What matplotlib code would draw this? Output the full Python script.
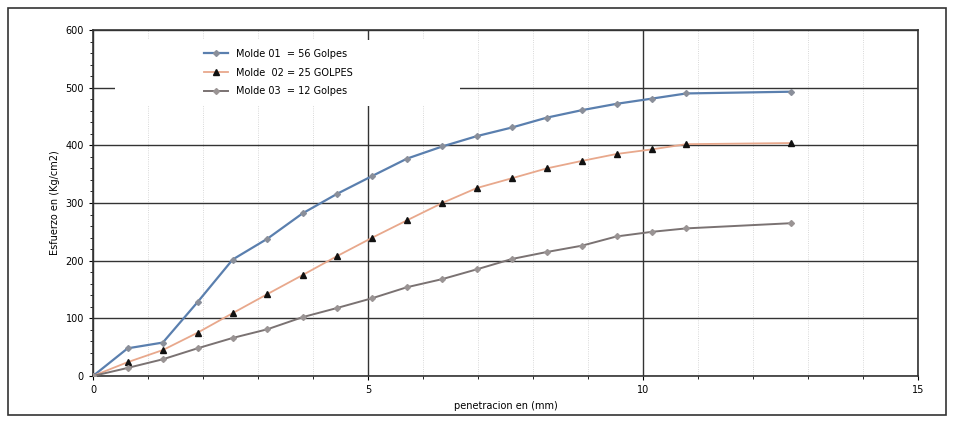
import matplotlib.pyplot as plt
from matplotlib.ticker import MultipleLocator
from matplotlib.patches import Rectangle

# penetracion (mm)
pen = [0, 0.63, 1.27, 1.90, 2.54, 3.17, 3.81, 4.44, 5.08, 5.71, 6.35,
       6.98, 7.62, 8.25, 8.89, 9.52, 10.16, 10.79, 12.70]
molde01 = [0, 48, 58, 128, 202, 238, 282, 316, 347, 377, 398,
           416, 431, 448, 461, 472, 481, 490, 493]
molde02 = [0, 24, 45, 75, 109, 142, 175, 208, 240, 270, 300,
           326, 343, 360, 373, 385, 393, 402, 404]
molde03 = [0, 14, 29, 48, 66, 81, 102, 118, 135, 154, 168,
           185, 203, 215, 226, 242, 250, 256, 265]

labels = ["Molde 01  = 56 Golpes", "Molde  02 = 25 GOLPES", "Molde 03  = 12 Golpes"]

plt.rcParams['font.family'] = 'DejaVu Sans'
fig = plt.figure(figsize=(9.54, 4.23), dpi=100)
ax = fig.add_axes([93 / 954, 1 - 376 / 423, 825 / 954, 346 / 423])

fig.patches.append(Rectangle((8 / 954, 8 / 423), 938 / 954, 407 / 423,
                             transform=fig.transFigure, fill=False,
                             edgecolor='#333333', linewidth=1.2))

ax.plot(pen, molde01, color='#5a7fae', linewidth=1.6, marker='D', markersize=3,
        markerfacecolor='#8a8f9a', markeredgecolor='#8a8f9a', label=labels[0], zorder=3)
ax.plot(pen, molde02, color='#e8a88c', linewidth=1.3, marker='^', markersize=5,
        markerfacecolor='#111111', markeredgecolor='#111111', label=labels[1], zorder=3)
ax.plot(pen, molde03, color='#7a7272', linewidth=1.4, marker='D', markersize=3,
        markerfacecolor='#9a9494', markeredgecolor='#9a9494', label=labels[2], zorder=3)

ax.set_xlim(0, 15)
ax.set_ylim(0, 600)
ax.xaxis.set_major_locator(MultipleLocator(5))
ax.xaxis.set_minor_locator(MultipleLocator(1))
ax.yaxis.set_major_locator(MultipleLocator(100))
ax.yaxis.set_minor_locator(MultipleLocator(20))

ax.grid(which='major', color='#333333', linewidth=1.0)
ax.grid(which='minor', axis='x', color='#cccccc', linewidth=0.6, linestyle=':')
ax.tick_params(labelsize=7, length=3)
ax.tick_params(which='minor', length=2)
for s in ax.spines.values():
    s.set_color('#333333')
    s.set_linewidth(1.2)

ax.set_xlabel("penetracion en (mm)", fontsize=7)
ax.set_ylabel("Esfuerzo en (Kg/cm2)", fontsize=7)

# blanco detras de la leyenda (tapa la grilla)
ax.add_patch(Rectangle((0.027, 0.78), 0.418, 0.19, transform=ax.transAxes,
                       facecolor='white', edgecolor='none', zorder=2.5))

leg = ax.legend(loc='upper left', bbox_to_anchor=(0.118, 0.985), fontsize=7,
                frameon=False, handlelength=2.5, borderpad=0.9, labelspacing=0.9)
leg.set_zorder(5)

fig.savefig('out.png', dpi=100)
